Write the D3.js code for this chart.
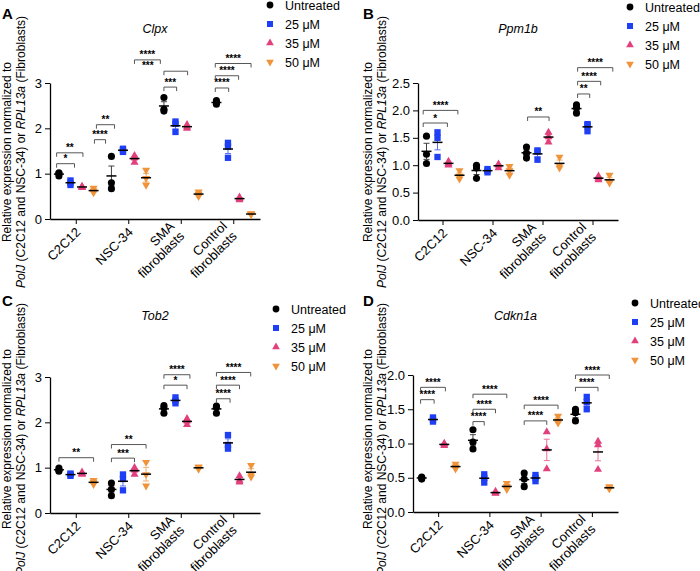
<!DOCTYPE html>
<html><head><meta charset="utf-8">
<script src="https://cdn.jsdelivr.net/npm/d3@7"></script>
<style>body{margin:0;background:#fff}svg{font-family:"Liberation Sans",Arial,sans-serif}</style>
</head><body><svg id="c" width="700" height="571"></svg>
<script>
const groups = [["C2C12"],["NSC-34"],["SMA","fibroblasts"],["Control","fibroblasts"]];
const seriesNames = ["Untreated","25 μM","35 μM","50 μM"];
const seriesColors = ["#000000","#1f3ff5","#e2407c","#f0933a"];
const seriesShapes = [d3.symbolCircle,d3.symbolSquare,d3.symbolTriangle,d3.symbolTriangle];

// replicates: [group][series][rep]
const clpx = [
 [[0.95,1.0,1.02],[0.75,0.8,0.85],[0.69,0.71,0.72],[0.58,0.62,0.68]],
 [[0.67,0.8,1.38],[1.48,1.52,1.55],[1.25,1.35,1.4],[0.75,0.9,1.08]],
 [[2.38,2.42,2.68],[1.92,2.1,2.15],[2.0,2.03,2.08],[0.5,0.55,0.6]],
 [[2.53,2.57,2.61],[1.35,1.6,1.68],[0.42,0.45,0.48],[0.1,0.11,0.12]]];
const ppm1b = [
 [[1.03,1.2,1.53],[1.15,1.5,1.6],[1.0,1.03,1.07],[0.75,0.8,0.9]],
 [[0.76,0.95,1.0],[0.87,0.9,0.93],[0.95,1.0,1.02],[0.82,0.9,0.98]],
 [[1.13,1.22,1.33],[1.1,1.25,1.27],[1.42,1.52,1.6],[0.95,1.0,1.15]],
 [[1.95,2.05,2.1],[1.62,1.73,1.75],[0.73,0.76,0.8],[0.68,0.7,0.82]]];
const tob2 = [
 [[0.92,0.95,0.99],[0.82,0.85,0.87],[0.85,0.87,0.9],[0.63,0.68,0.72]],
 [[0.38,0.52,0.66],[0.5,0.75,0.85],[0.85,0.95,1.0],[0.6,0.85,1.12]],
 [[2.2,2.32,2.37],[2.42,2.48,2.55],[1.95,2.03,2.08],[0.97,1.0,1.02]],
 [[2.2,2.33,2.36],[1.42,1.5,1.72],[0.68,0.72,0.82],[0.8,0.85,1.05]]];
const cdkn1a = [
 [[0.48,0.5,0.51],[1.32,1.35,1.38],[0.97,0.99,1.0],[0.63,0.66,0.7]],
 [[0.92,1.02,1.2],[0.43,0.5,0.55],[0.27,0.28,0.3],[0.33,0.37,0.42]],
 [[0.37,0.48,0.57],[0.45,0.5,0.54],[0.63,0.92,1.17],[1.3,1.33,1.4]],
 [[1.33,1.45,1.5],[1.5,1.6,1.68],[0.62,0.98,1.03],[0.34,0.35,0.37]]];

// brackets: [group, fromSeries, toSeries, y, label]
const clpxSig = [[0,-0.2,1.35,1.22,"*"],[0,-0.2,2.08,1.46,"**"],[1,-1.47,-0.51,1.75,"****"],[1,-1.3,0.27,2.08,"**"],
 [2,-2.55,-0.31,3.51,"****"],[2,-1.4,-1.4,3.27,"***"],[2,0,2.05,3.26,""],[2,0,1.1,2.91,"***"],
 [3,-0.1,1.06,2.89,"****"],[3,-0.1,1.92,3.16,"****"],[3,-0.1,3,3.43,"****"]];
const ppm1bSig = [[0,-0.3,1.9,1.77,"*"],[0,-0.3,2.85,2.0,"****"],[2,0.1,2.05,1.88,"**"],
 [3,0.1,1.2,2.3,"**"],[3,0.1,2.2,2.53,"****"],[3,0.1,3.3,2.78,"****"]];
const tob2Sig = [[0,0,3,1.22,"**"],[1,0,2,1.21,"***"],[1,0,3,1.51,"**"],[2,0,2,2.82,"*"],[2,0,2.25,3.05,"****"],
 [3,0,1.18,2.52,"****"],[3,0,2,2.82,"****"],[3,0,2.97,3.1,"****"]];
const cdkn1aSig = [[0,-0.1,1.1,1.64,"****"],[0,-0.1,2.1,1.82,"****"],[1,0,1,1.32,"****"],[1,0,2,1.5,"****"],[1,0,3,1.72,"****"],
 [2,0,2,1.33,"****"],[2,0,3,1.56,"****"],[3,0,2,1.82,"****"],[3,0,3,2.0,"****"]];

const yTicksA = [0,1,2,3], yTicksB = [0,0.5,1,1.5,2,2.5], yTicksD = [0,0.5,1,1.5,2];

const panels = [
 {letter:"A",title:"Clpx",data:clpx,sig:clpxSig,ticks:yTicksA,fmt:d3.format("d"),dom:[0,3],x0:50,x1:260,y0:219,y1:83,lx:0,ly:0,leg:[270,5]},
 {letter:"B",title:"Ppm1b",data:ppm1b,sig:ppm1bSig,ticks:yTicksB,fmt:d3.format(".1f"),dom:[0,2.5],x0:418,x1:618,y0:220,y1:83,lx:361,ly:0,leg:[630,7]},
 {letter:"C",title:"Tob2",data:tob2,sig:tob2Sig,ticks:yTicksA,fmt:d3.format("d"),dom:[0,3],x0:50,x1:260,y0:513,y1:377,lx:0,ly:287,leg:[276,309]},
 {letter:"D",title:"Cdkn1a",data:cdkn1a,sig:cdkn1aSig,ticks:yTicksD,fmt:d3.format(".1f"),dom:[0,2],x0:413,x1:618,y0:512,y1:375,lx:361,ly:287,leg:[635,303]}];

const svg = d3.select("#c");
panels.forEach(p=>{
  const g = svg.append("g");
  const x = d3.scaleBand().domain(d3.range(4)).range([p.x0,p.x1]).padding(0);
  const bw = x.bandwidth();
  const sx = (gi,s)=>x(gi)+bw*(0.17+0.22*s);
  const y = d3.scaleLinear().domain(p.dom).range([p.y0,p.y1]);
  const ya = g.append("g").attr("transform",`translate(${p.x0},0)`).call(d3.axisLeft(y).tickValues(p.ticks).tickFormat(p.fmt).tickSize(5).tickSizeOuter(0));
  ya.selectAll("text").attr("font-size",13).attr("fill","#000");
  ya.select(".domain").attr("stroke-width",1.3);
  const xa = g.append("g").attr("transform",`translate(0,${p.y0})`).call(d3.axisBottom(x).tickSize(5).tickSizeOuter(0).tickFormat(""));
  xa.select(".domain").attr("stroke-width",1.3);
  groups.forEach((lab,gi)=>{
    const cx = x(gi)+bw/2;
    const t = g.append("text").attr("text-anchor","end").attr("font-size",13);
    lab.forEach((l,i)=>t.append("tspan").attr("x",0).attr("dy",i?14:0).text(l));
    t.attr("transform", lab.length>1 ? `translate(${cx-6},${p.y0+8}) rotate(-45)` : `translate(${cx+5},${p.y0+14}) rotate(-45)`);
  });
  const yc = (p.ly)+152;
  g.append("text").attr("transform",`translate(${p.lx+11},${yc}) rotate(-90)`).attr("text-anchor","middle").attr("font-size",12).text("Relative expression normalized to");
  const t2 = g.append("text").attr("transform",`translate(${p.lx+25},${yc}) rotate(-90)`).attr("text-anchor","middle").attr("font-size",12);
  t2.append("tspan").attr("font-style","italic").text("PolJ");
  t2.append("tspan").text(" (C2C12 and NSC-34) or ");
  t2.append("tspan").attr("font-style","italic").text("RPL13a");
  t2.append("tspan").text(" (Fibroblasts)");
  g.append("text").attr("x",p.lx+2).attr("y",p.ly+19).attr("font-weight","bold").attr("font-size",15).text(p.letter);
  g.append("text").attr("x",(p.x0+p.x1)/2).attr("y",p.ly+33).attr("text-anchor","middle").attr("font-style","italic").attr("font-size",12.5).text(p.title);
  p.data.forEach((grp,gi)=>grp.forEach((reps,s)=>{
    const cx = sx(gi,s), m = d3.mean(reps), se = d3.deviation(reps)/Math.sqrt(reps.length);
    const col = seriesColors[s];
    const eb = g.append("g").attr("stroke",col).attr("stroke-width",1).attr("opacity",0.75);
    eb.append("line").attr("x1",cx).attr("x2",cx).attr("y1",y(m-se)).attr("y2",y(m+se));
    [m-se,m+se].forEach(v=>eb.append("line").attr("x1",cx-3).attr("x2",cx+3).attr("y1",y(v)).attr("y2",y(v)));
    reps.forEach(v=>{
      g.append("path").attr("d",d3.symbol(seriesShapes[s],s<2?40:28)())
       .attr("transform",`translate(${cx},${y(v)})${s==3?" rotate(180)":""}`).attr("fill",col);
    });
    g.append("line").attr("x1",cx-5).attr("x2",cx+5).attr("y1",y(m)).attr("y2",y(m)).attr("stroke","#000").attr("stroke-width",1.5);
  }));
  p.sig.forEach(([gi,a,b,v,lab])=>{
    const xa_ = sx(gi,a), xb = sx(gi,b), yy = y(v);
    if(b>a){
      g.append("path").attr("d",`M${xa_},${yy+4}V${yy}H${xb}V${yy+4}`).attr("fill","none").attr("stroke","#444").attr("stroke-width",0.9);
    }
    if(lab) g.append("text").attr("x",(xa_+xb)/2).attr("y",yy-1.5).attr("text-anchor","middle").attr("font-size",10).attr("font-weight","bold").text(lab);
  });
  seriesNames.forEach((n,i)=>{
    const ly = p.leg[1]+i*19;
    g.append("path").attr("d",d3.symbol(seriesShapes[i],i>=2?26:36)()).attr("transform",`translate(${p.leg[0]},${ly})${i==3?" rotate(180)":""}`).attr("fill",seriesColors[i]);
    g.append("text").attr("x",p.leg[0]+15).attr("y",ly+5).attr("font-size",12.5).text(n);
  });
});
</script></body></html>
